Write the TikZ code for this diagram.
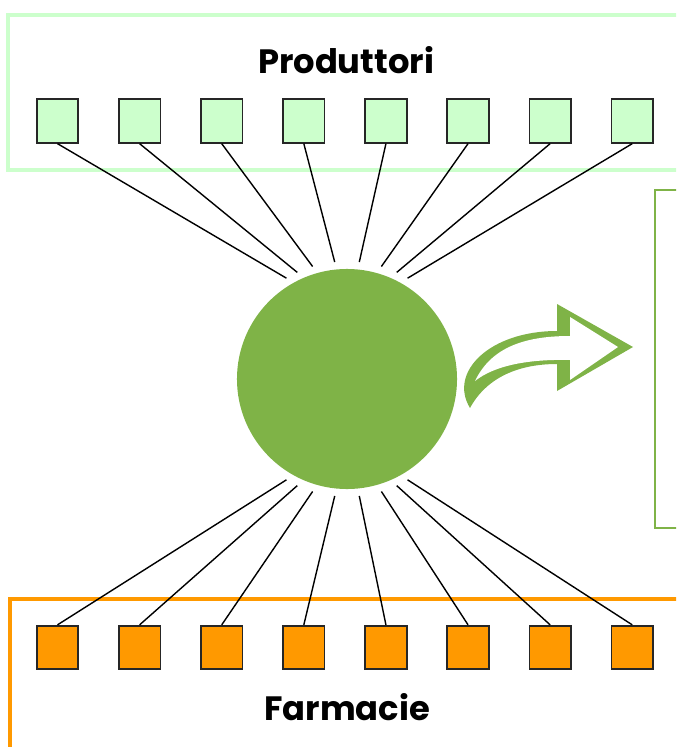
\documentclass[tikz,border=0pt]{standalone}
\usepackage{fontspec}
\setmainfont{Poppins}
\usepackage{tikz}
\usetikzlibrary{positioning}
\usepackage{xcolor}
\definecolor{LeafGreen}{RGB}{127,179,71}
\definecolor{MintGreen}{RGB}{204,255,204}
\definecolor{PharmaOrange}{RGB}{255,153,0}

\begin{document}
\begin{tikzpicture}[x=0.025cm,y=-0.025cm,node distance=0.97cm,
  prod/.style={draw=black!85,line width=1.2pt,fill=MintGreen,minimum width=1.04cm,
    minimum height=1.09cm,inner sep=0pt},
  pharm/.style={prod,fill=PharmaOrange},
  link/.style={line width=1pt},
  grouptitle/.style={font=\fontsize{24}{28}\selectfont\bfseries,inner sep=0pt}]
\clip (0,0) rectangle (676,747);
\draw[MintGreen,line width=2.2pt] (8,15) rectangle (700,170);
\draw[PharmaOrange,line width=2.8pt] (10,599) rectangle (700,770);
\draw[LeafGreen,line width=1.2pt] (655,190) rectangle (700,528);
\node[grouptitle] (prodtitle) at (346,60) {Produttori};
\node[grouptitle] (pharmtitle) at (347,707) {Farmacie};
\node[prod] (p1) at (57.5,121) {};
\node[prod,right=of p1] (p2) {};
\node[prod,right=of p2] (p3) {};
\node[prod,right=of p3] (p4) {};
\node[prod,right=of p4] (p5) {};
\node[prod,right=of p5] (p6) {};
\node[prod,right=of p6] (p7) {};
\node[prod,right=of p7] (p8) {};
\node[pharm] (f1) at (57.5,647.5) {};
\node[pharm,right=of f1] (f2) {};
\node[pharm,right=of f2] (f3) {};
\node[pharm,right=of f3] (f4) {};
\node[pharm,right=of f4] (f5) {};
\node[pharm,right=of f5] (f6) {};
\node[pharm,right=of f6] (f7) {};
\node[pharm,right=of f7] (f8) {};
\node[circle,fill=LeafGreen,minimum size=5.5cm,inner sep=0pt,outer sep=0.19cm] (hub) at (347,379) {};
\draw[link] (p1.south) -- (hub.121);
\draw[link] (p2.south) -- (hub.115);
\draw[link] (p3.south) -- (hub.107);
\draw[link] (p4.south) -- (hub.96);
\draw[link] (p5.south) -- (hub.84);
\draw[link] (p6.south) -- (hub.73);
\draw[link] (p7.south) -- (hub.65);
\draw[link] (p8.south) -- (hub.59);
\draw[link] (f1.north) -- (hub.239);
\draw[link] (f2.north) -- (hub.245);
\draw[link] (f3.north) -- (hub.253);
\draw[link] (f4.north) -- (hub.264);
\draw[link] (f5.north) -- (hub.276);
\draw[link] (f6.north) -- (hub.287);
\draw[link] (f7.north) -- (hub.295);
\draw[link] (f8.north) -- (hub.301);
% bent outline arrow
\fill[LeafGreen] (470,408) .. controls (448,372) and (490,331) .. (557,331)
  -- (557,304) -- (633,347) -- (557,391) -- (557,364)
  .. controls (515,364) and (485,380) .. cycle;
\fill[white] (475,381) .. controls (490,350) and (520,336) .. (570,336)
  -- (570,317) -- (618,347) -- (570,380) -- (570,360)
  .. controls (530,359) and (495,365) .. cycle;
\end{tikzpicture}
\end{document}
